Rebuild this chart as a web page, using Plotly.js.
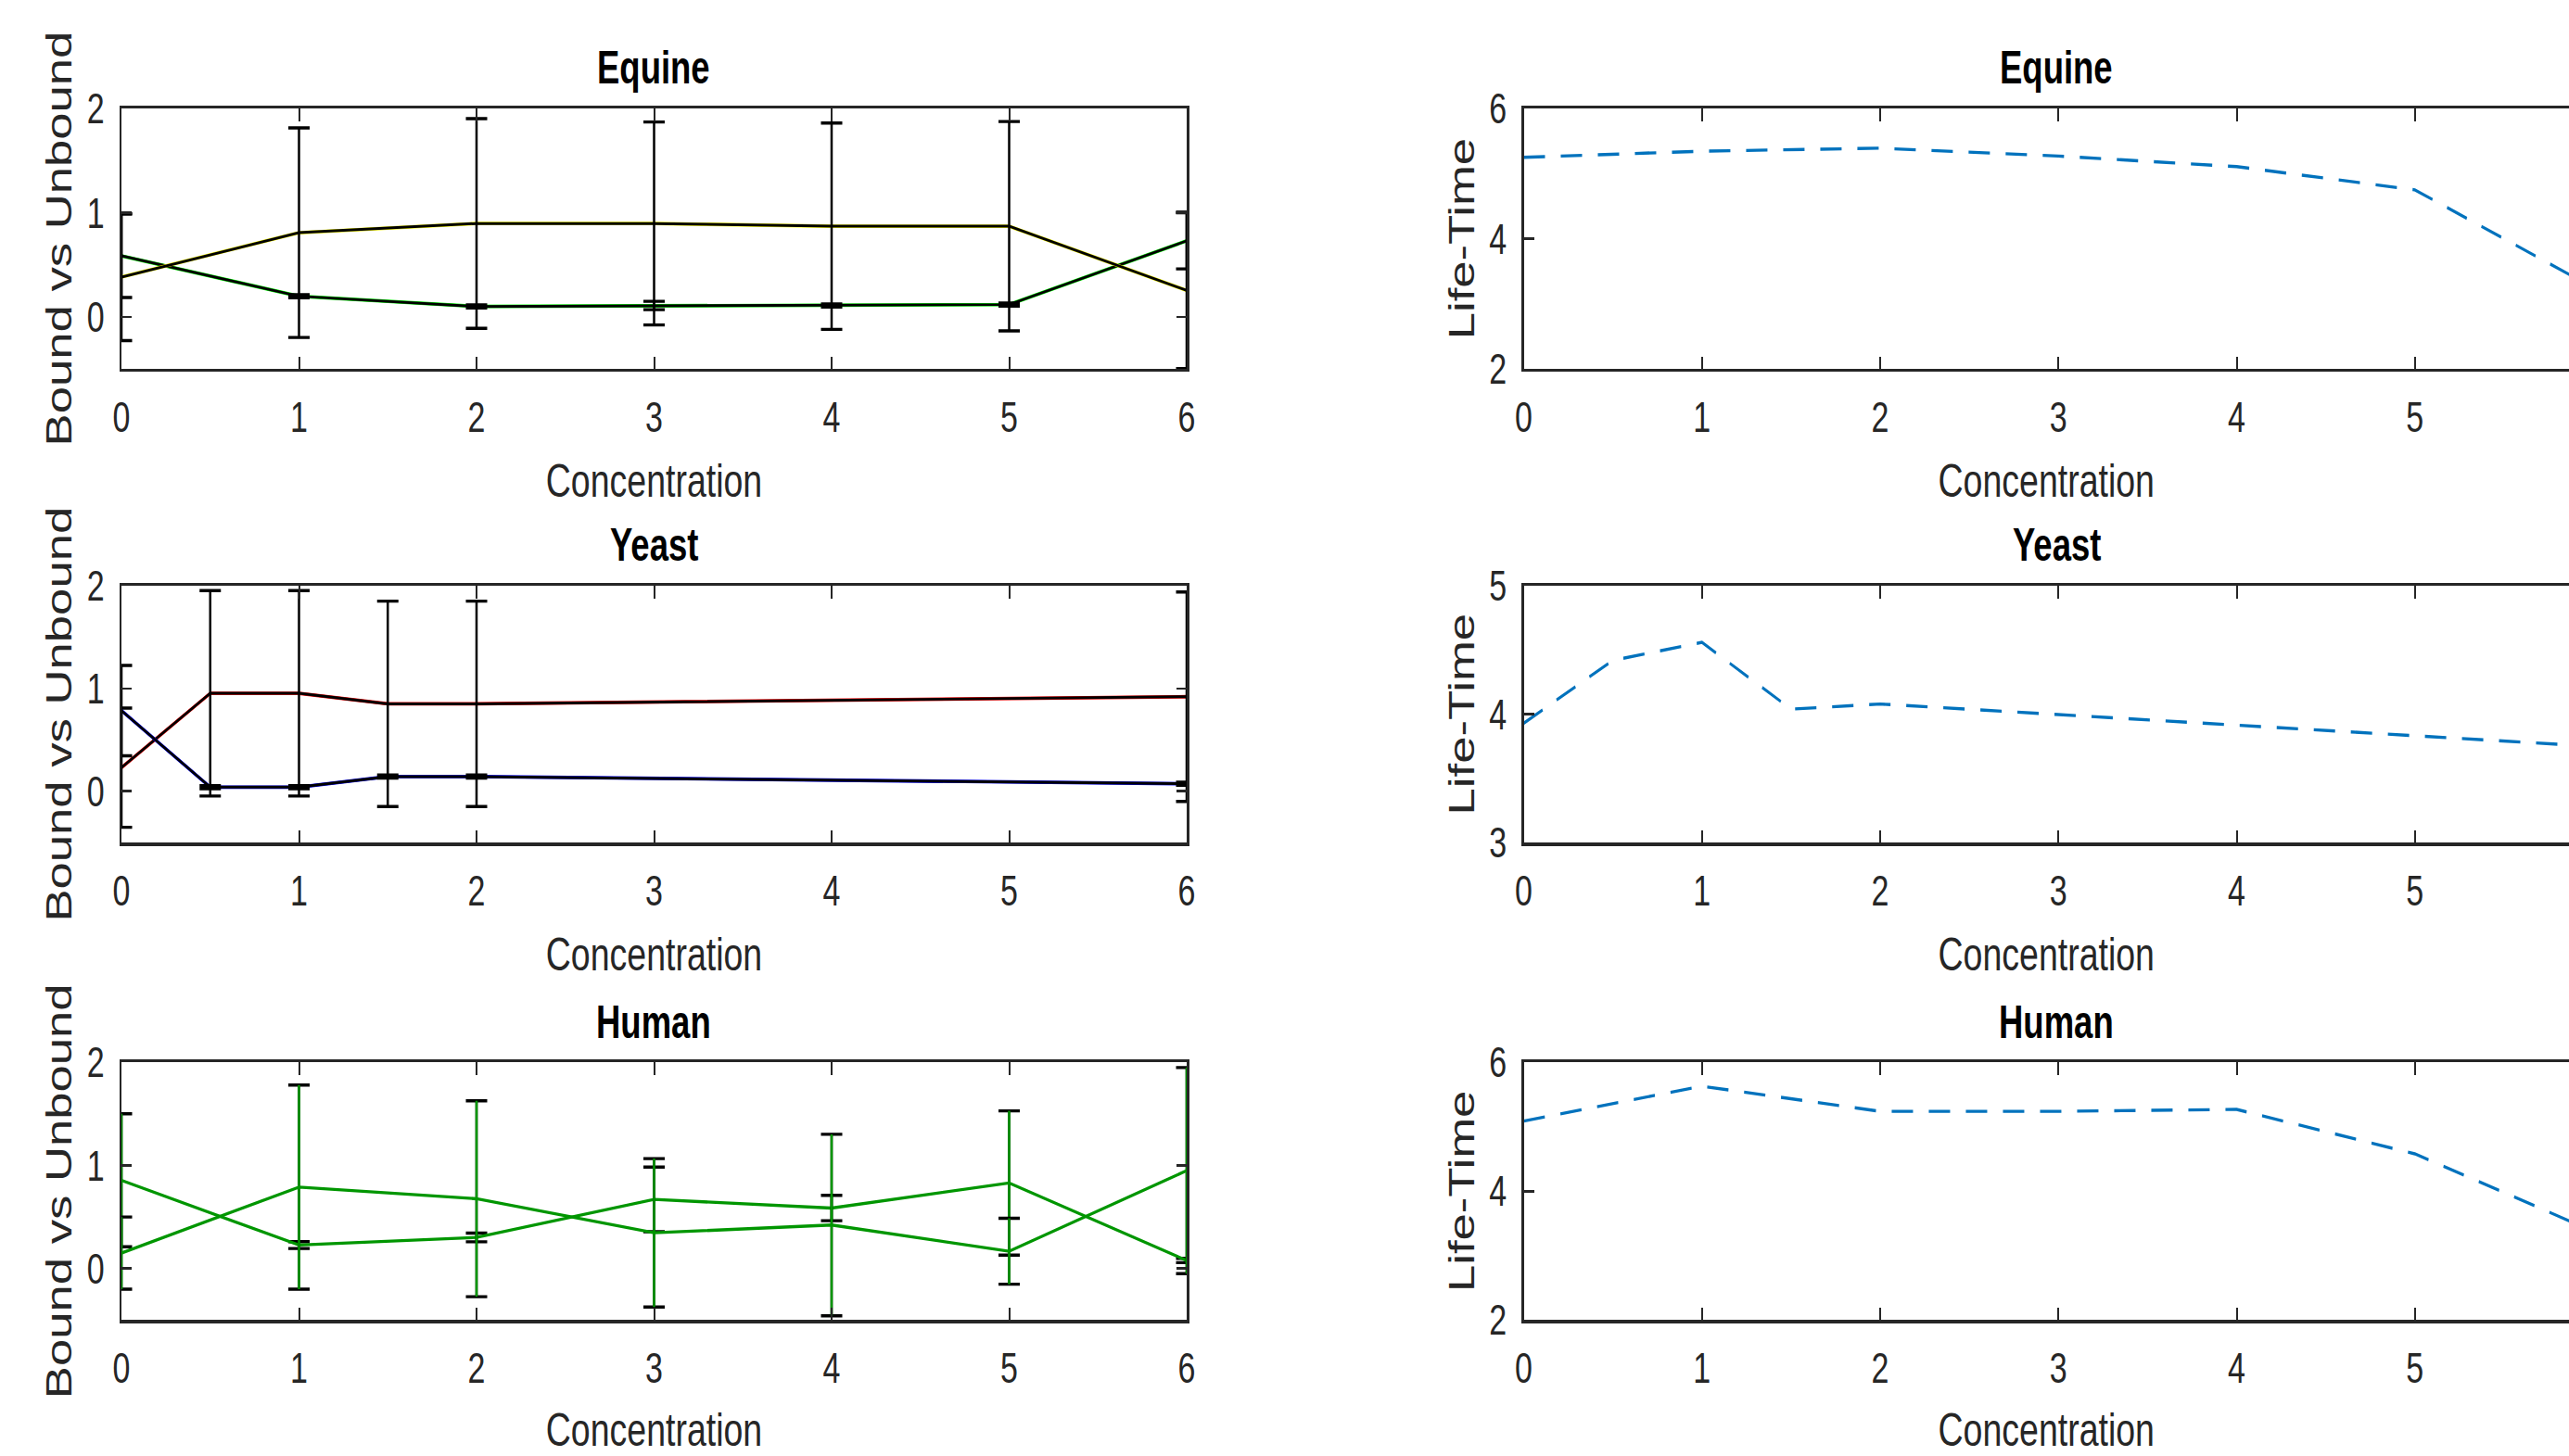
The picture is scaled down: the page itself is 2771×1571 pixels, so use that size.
<!DOCTYPE html>
<html>
<head>
<meta charset="utf-8">
<script src="https://cdn.plot.ly/plotly-3.0.1.min.js"></script>
<style>
html,body{margin:0;padding:0;background:#fff;overflow:hidden;}
#wrap{width:2771px;height:1571px;overflow:hidden;position:relative;}
#chart{width:2771px;transform-origin:0 0;}
</style>
</head>
<body>
<div id="wrap"><div id="chart"></div></div>
<script>
// ---------------- data ----------------
const conc = [0, 1, 2, 3, 4, 5, 6];
const yeastConc = [0, 0.5, 1, 1.5, 2, 6];

const equineBound = [0.586, 0.198, 0.100, 0.109, 0.109, 0.118, 0.730];
const equineBoundErr = [0.40, 0.015, 0.015, 0.04, 0.015, 0.015, 0.27];
const equineUnbound = [0.382, 0.808, 0.896, 0.896, 0.870, 0.870, 0.254];
const equineUnboundErr = [0.61, 1.006, 1.006, 0.974, 0.99, 1.005, 0.75];

const yeastBound = [0.23, 0.954, 0.954, 0.852, 0.852, 0.921];
const yeastBoundErr = [0.58, 1.0, 1.0, 1.0, 1.0, 1.02];
const yeastUnbound = [0.786, 0.041, 0.041, 0.143, 0.143, 0.074];
const yeastUnboundErr = [0.44, 0.015, 0.015, 0.015, 0.015, 0.015];

const humanA = [0.856, 0.228, 0.302, 0.671, 0.587, 0.830, 0.078];
const humanAErr = [0.645, 0.033, 0.042, 0.314, 0.123, 0.70, 0.021];
const humanB = [0.15, 0.79, 0.677, 0.347, 0.422, 0.168, 0.95];
const humanBErr = [0.35, 0.99, 0.95, 0.72, 0.88, 0.32, 1.0];

const equineLife = [5.25, 5.344, 5.39, 5.27, 5.107, 4.75, 3.25];
const yeastLife = [3.93, 4.42, 4.56, 4.04, 4.08, 3.75];
const humanLife = [5.09, 5.63, 5.24, 5.24, 5.27, 4.58, 3.38];

const panelTitles = ['Equine', 'Yeast', 'Human'];
const xTitle = 'Concentration';
const yTitleLeft = 'Bound vs Unbound';
const yTitleRight = 'Life-Time';

// ---------------- layout helpers ----------------
const S = 1.35;               // vertical stretch of the original figure
const W = 2771, HFULL = 1571;
const H0 = HFULL / S;
const chartDiv = document.getElementById('chart');
chartDiv.style.height = H0 + 'px';
chartDiv.style.transform = 'scaleY(' + S + ')';

const FONT = 'Liberation Sans, Arial, Helvetica, sans-serif';
const AXC = '#262626';
const leftDom = [131 / W, 1280 / W];
const rightDom = [1643.5 / W, 1];
const rows = [[117, 398], [632, 909], [1146, 1424]];
const rowDom = rows.map(r => [1 - r[1] / HFULL, 1 - r[0] / HFULL]);
const titleY = [73.5, 588, 1103];

function xAxis(dom, anchor, range) {
  return {
    domain: dom, anchor: anchor, range: range,
    tickvals: conc, ticktext: conc.map(String),
    showline: true, linecolor: AXC, linewidth: 2.5, mirror: 'allticks',
    ticks: 'inside', ticklen: 10, tickwidth: 2, tickcolor: AXC,
    showgrid: false, zeroline: false,
    ticklabelstandoff: 7,
    tickfont: {family: FONT, size: 34, color: AXC},
    title: {text: xTitle, font: {family: FONT, size: 37.5, color: AXC}, standoff: 20}
  };
}
function yAxis(dom, anchor, range, vals, title, mirror) {
  return {
    domain: dom, anchor: anchor, range: range,
    tickvals: vals, ticktext: vals.map(String),
    showline: true, linecolor: AXC, linewidth: 2.5, mirror: mirror,
    ticks: 'inside', ticklen: 11, tickwidth: 2, tickcolor: AXC,
    showgrid: false, zeroline: false,
    ticklabelstandoff: 9,
    tickfont: {family: FONT, size: 34, color: AXC},
    title: {text: title, font: {family: FONT, size: 39, color: AXC}, standoff: 4}
  };
}

const layout = {
  width: W, height: H0,
  margin: {l: 0, r: 0, t: 0, b: 0},
  paper_bgcolor: '#fff', plot_bgcolor: '#fff',
  showlegend: false, hovermode: false,
  annotations: []
};
const rightRange = [0, 6 * (W - 1643.5) / (2797 - 1643.5)];
for (let i = 0; i < 3; i++) {
  const nL = 2 * i + 1, nR = 2 * i + 2;
  const sx = n => (n === 1 ? 'xaxis' : 'xaxis' + n);
  const sy = n => (n === 1 ? 'yaxis' : 'yaxis' + n);
  const idx = n => (n === 1 ? '' : String(n));
  layout[sx(nL)] = xAxis(leftDom, 'y' + idx(nL), [0, 6]);
  layout[sy(nL)] = yAxis(rowDom[i], 'x' + idx(nL), [-0.5, 2], [0, 1, 2], yTitleLeft, 'allticks');
  const rr = i === 1 ? [3, 5] : [2, 6];
  const rv = i === 1 ? [3, 4, 5] : [2, 4, 6];
  layout[sx(nR)] = xAxis(rightDom, 'y' + nR, rightRange);
  layout[sy(nR)] = yAxis(rowDom[i], 'x' + nR, rr, rv, yTitleRight, false);
  [[(131 + 1280) / 2], [2218]].forEach(c => {
    layout.annotations.push({
      text: '<b>' + panelTitles[i] + '</b>', xref: 'paper', yref: 'paper',
      x: c[0] / W, y: 1 - titleY[i] / HFULL, xanchor: 'center', yanchor: 'middle',
      showarrow: false, font: {family: FONT, size: 36.5, color: '#000'}
    });
  });
}

// ---------------- traces ----------------
const traces = [];
function pairWithErr(xs, ys, errs, col, ax) {
  traces.push({x: xs, y: ys, mode: 'lines', line: {color: col, width: 2.8},
    xaxis: 'x' + ax, yaxis: 'y' + ax, cliponaxis: false, hoverinfo: 'skip'});
  traces.push({x: xs, y: ys, mode: 'lines', line: {color: '#000', width: 2.2},
    error_y: {type: 'data', array: errs, visible: true, color: '#000', thickness: 2.5, width: 11.5},
    xaxis: 'x' + ax, yaxis: 'y' + ax, cliponaxis: false, hoverinfo: 'skip'});
}
pairWithErr(conc, equineBound, equineBoundErr, '#00ff00', '');
pairWithErr(conc, equineUnbound, equineUnboundErr, '#ffff00', '');
pairWithErr(yeastConc, yeastBound, yeastBoundErr, '#ff0000', '3');
pairWithErr(yeastConc, yeastUnbound, yeastUnboundErr, '#0000ff', '3');

function greenErr(xs, ys, errs, ax) {
  traces.push({x: xs, y: ys, mode: 'markers', marker: {size: 1, color: 'rgba(0,0,0,0)'},
    error_y: {type: 'data', array: errs, visible: true, color: '#000', thickness: 2.5, width: 11.5},
    xaxis: 'x' + ax, yaxis: 'y' + ax, cliponaxis: false, hoverinfo: 'skip'});
  traces.push({x: xs, y: ys, mode: 'lines', line: {color: 'rgb(0,150,0)', width: 2.5},
    error_y: {type: 'data', array: errs, visible: true, color: 'rgb(0,150,0)', thickness: 2.5, width: 0},
    xaxis: 'x' + ax, yaxis: 'y' + ax, cliponaxis: false, hoverinfo: 'skip'});
}
greenErr(conc, humanA, humanAErr, '5');
greenErr(conc, humanB, humanBErr, '5');

const lifeLine = {color: '#0072BD', width: 2.5, dash: '23px,17px'};
traces.push({x: conc, y: equineLife, mode: 'lines', line: lifeLine, xaxis: 'x2', yaxis: 'y2', hoverinfo: 'skip'});
traces.push({x: yeastConc, y: yeastLife, mode: 'lines', line: lifeLine, xaxis: 'x4', yaxis: 'y4', hoverinfo: 'skip'});
traces.push({x: conc, y: humanLife, mode: 'lines', line: lifeLine, xaxis: 'x6', yaxis: 'y6', hoverinfo: 'skip'});

Plotly.newPlot(chartDiv, traces, layout, {staticPlot: true, displayModeBar: false});
</script>
</body>
</html>
